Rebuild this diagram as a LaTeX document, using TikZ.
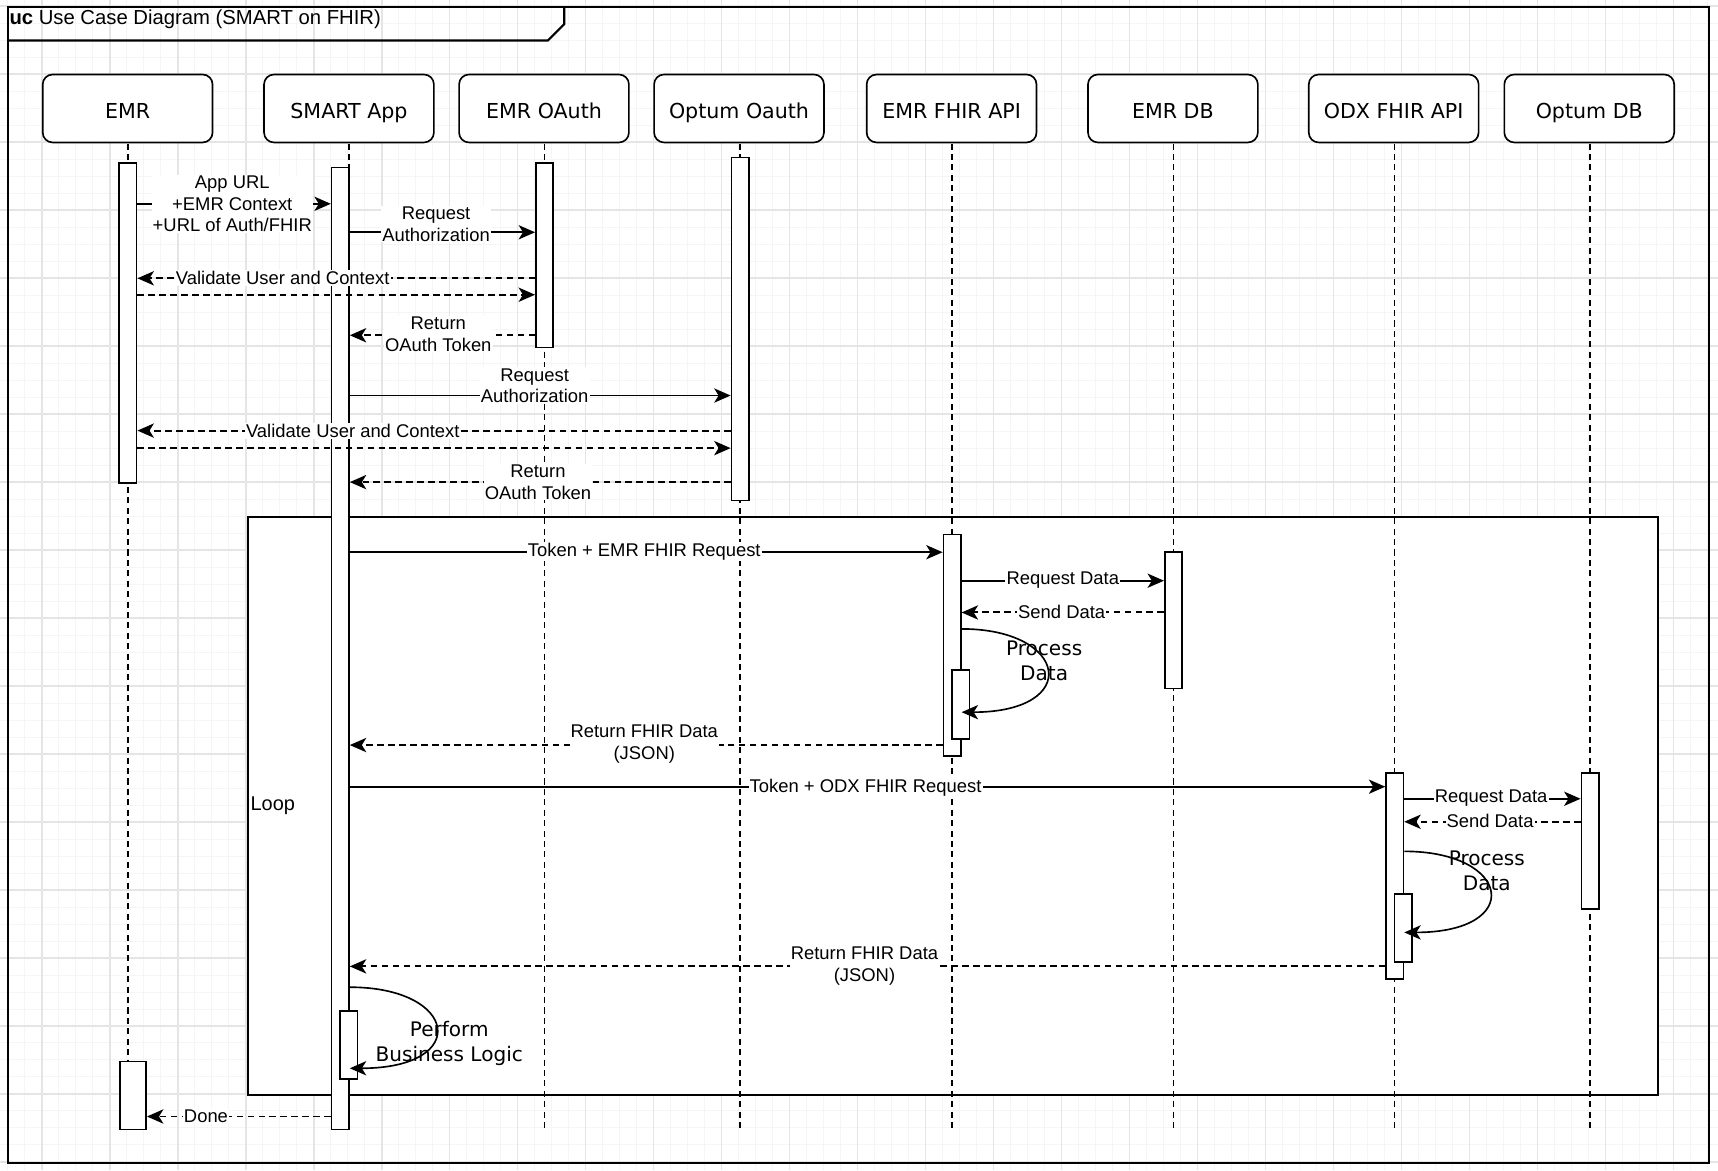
\documentclass[tikz,border=0pt]{standalone}
\usepackage{fontspec}
\setmainfont{Liberation Sans}
\newfontfamily\hdfont{DejaVu Sans}
\usetikzlibrary{arrows.meta}
\definecolor{gmajor}{RGB}{229,229,229}
\definecolor{gminor}{RGB}{245,245,245}
\tikzset{
  head/.style={draw, rounded corners=9pt, minimum width=155pt, minimum height=62pt, fill=white, line width=1.5pt, inner sep=0pt, text height=18pt, text depth=0pt, font=\hdfont\fontsize{18.8}{22}\selectfont},
  bar/.style={draw, fill=white, line width=1.5pt, inner sep=0pt, minimum width=15.8pt},
  lifel/.style={dash pattern=on 5.5pt off 4pt, line width=1.6pt},
  msg/.style={line width=1.5pt, -{Stealth[length=15pt,width=13pt,inset=4pt]}},
  rmsg/.style={msg, line width=1.8pt, dash pattern=on 6pt off 4pt},
  lbl/.style={fill=white, inner sep=1pt, align=center, font=\fontsize{16.8}{19.8}\selectfont},
  selflbl/.style={inner sep=0pt, align=center, font=\hdfont\fontsize{18.3}{23}\selectfont},
  framebox/.style={line width=2pt},
  loopbox/.style={line width=1.8pt, fill=white}
}
\begin{document}
\begin{tikzpicture}[x=1pt,y=-1pt]
\useasboundingbox (0,0) rectangle (1568,1068);
\fill[white] (0,0) rectangle (1568,1068);
% grid
\foreach \i in {0,...,101} { \draw[gminor, line width=0.9pt] ({7.27+\i*15.515},0) -- ({7.27+\i*15.515},1068); }
\foreach \i in {0,...,68} { \draw[gminor, line width=0.9pt] (0,{5.5+\i*15.515}) -- (1568,{5.5+\i*15.515}); }
\foreach \i in {0,...,25} { \draw[gmajor, line width=1pt] ({38.3+\i*62.06},0) -- ({38.3+\i*62.06},1068); }
\foreach \i in {0,...,17} { \draw[gmajor, line width=1pt] (0,{5.5+\i*62.06}) -- (1568,{5.5+\i*62.06}); }
% frame
\draw[framebox] (7.6,6.1) rectangle (1559.5,1061.5);
\draw[framebox] (7.6,37) -- (500,37) -- (515,22) -- (515,6.1);
\node[anchor=base west, inner sep=0pt, font=\fontsize{18.5}{22}\selectfont] (title) at (8.5,22.8) {\textbf{uc} Use Case Diagram (SMART on FHIR)};
% loop
\draw[loopbox] (226,472) rectangle (1513,999);
\node[anchor=west, inner sep=0pt, font=\fontsize{18.2}{22}\selectfont] (looplbl) at (228.5,735) {Loop};
% heads
\node[head] (hEMR) at (116.5,99) {EMR};
\node[head] (hSM) at (318.5,99) {SMART App};
\node[head] (hOA) at (496.5,99) {EMR OAuth};
\node[head] (hOP) at (674.5,99) {Optum Oauth};
\node[head] (hFH) at (868.5,99) {EMR FHIR API};
\node[head] (hDB) at (1070.5,99) {EMR DB};
\node[head] (hOD) at (1272,99) {ODX FHIR API};
\node[head] (hODB) at (1450.5,99) {Optum DB};
\coordinate (yend) at (0,1030);
\coordinate (lSM) at (318.5,131);
\coordinate (lOP) at (675.5,131);
\coordinate (lFH) at (869,131);
\coordinate (lDB) at (1071,131);
\coordinate (lOD) at (1272.8,131);
\coordinate (lODB) at (1451.2,131);
\coordinate (lEMR) at (116.8,131);
\coordinate (lOA) at (497,131);
\foreach \c in {lEMR,lSM,lOA,lOP,lFH,lDB,lOD,lODB} { \draw[lifel] (\c) -- (\c |- yend); }
% bars
\node[bar, minimum height=292pt, anchor=north] (emrA) at (116.8,148) {};
\node[bar, minimum width=23.7pt, minimum height=62pt, anchor=north west] (emrB) at (108.9,968) {};
\node[bar, minimum height=878pt, anchor=north] (smA) at (310.6,152) {};
\node[bar, minimum height=62pt, anchor=north] (smB) at (318.4,922) {};
\node[bar, minimum height=168.5pt, anchor=north] (oaA) at (497,148) {};
\node[bar, minimum height=313pt, anchor=north] (opA) at (675.5,143) {};
\node[bar, minimum height=202.5pt, anchor=north] (fhA) at (869,487) {};
\node[bar, minimum height=62.5pt, anchor=north] (fhB) at (877,611) {};
\node[bar, minimum height=124.5pt, anchor=north] (dbA) at (1071,503) {};
\node[bar, minimum height=188pt, anchor=north] (odA) at (1273,705) {};
\node[bar, minimum height=62pt, anchor=north] (odB) at (1280.6,815) {};
\node[bar, minimum height=124pt, anchor=north] (odbA) at (1451.2,705) {};
% messages
\draw[msg] (emrA.east |- 0,186) -- (smA.west |- 0,186);
\draw[msg] (smA.east |- 0,212) -- (oaA.west |- 0,212);
\draw[rmsg] (oaA.west |- 0,254) -- (emrA.east |- 0,254);
\draw[rmsg] (emrA.east |- 0,269) -- (oaA.west |- 0,269);
\draw[rmsg] (oaA.west |- 0,306) -- (smA.east |- 0,306);
\draw[msg] (smA.east |- 0,361) -- (opA.west |- 0,361);
\draw[rmsg] (opA.west |- 0,393) -- (emrA.east |- 0,393);
\draw[rmsg] (emrA.east |- 0,409) -- (opA.west |- 0,409);
\draw[rmsg] (opA.west |- 0,440) -- (smA.east |- 0,440);
\draw[msg] (smA.east |- 0,504) -- (fhA.west |- 0,504);
\draw[msg] (fhA.east |- 0,530) -- (dbA.west |- 0,530);
\draw[rmsg] (dbA.west |- 0,559) -- (fhA.east |- 0,559);
\draw[msg] (fhA.east |- 0,574) .. controls +(98,0) and +(110,0) .. (fhA.east |- 0,650);
\draw[rmsg] (fhA.west |- 0,680) -- (smA.east |- 0,680);
\draw[msg] (smA.east |- 0,718) -- (odA.west |- 0,718);
\draw[msg] (odA.east |- 0,729) -- (odbA.west |- 0,729);
\draw[rmsg] (odbA.west |- 0,750) -- (odA.east |- 0,750);
\draw[msg] (odA.east |- 0,777) .. controls +(98,0) and +(110,0) .. (odA.east |- 0,851);
\draw[rmsg] (odA.west |- 0,882) -- (smA.east |- 0,882);
\draw[msg] (smA.east |- 0,901) .. controls +(99,0) and +(111,0) .. (smA.east |- 0,975);
\draw[rmsg] (smA.west |- 0,1019) -- (emrB.east |- 0,1019);
% labels
\node[lbl] (t1) at (212,186) {App URL\\+EMR Context\\+URL of Auth/FHIR};
\node[lbl] (t2) at (398,204.5) {Request\\Authorization};
\node[lbl] (t3) at (258,253.5) {Validate User and Context};
\node[lbl] (t4) at (400,305) {Return\\OAuth Token};
\node[lbl] (t5) at (488,352) {Request\\Authorization};
\node[lbl] (t6) at (322,393.5) {Validate User and Context};
\node[lbl] (t7) at (491,440) {Return\\OAuth Token};
\node[lbl] (t8) at (588,503.5) {Token + EMR FHIR Request};
\node[lbl] (t9) at (970,529.5) {Request Data};
\node[lbl] (t10) at (969,558.5) {Send Data};
\node[selflbl] (t11) at (953,603) {Process\\Data};
\node[lbl] (t12) at (588,679) {Return FHIR Data\\(JSON)};
\node[lbl] (t13) at (790,718.5) {Token + ODX FHIR Request};
\node[lbl] (t14) at (1361,728.5) {Request Data};
\node[lbl] (t15) at (1360,749.5) {Send Data};
\node[selflbl] (t16) at (1357,794.5) {Process\\Data};
\node[lbl] (t17) at (789,882) {Return FHIR Data\\(JSON)};
\node[selflbl] (t18) at (410,952) {Perform\\Business Logic};
\node[lbl] (t19) at (188,1019) {Done};
\end{tikzpicture}
\end{document}
